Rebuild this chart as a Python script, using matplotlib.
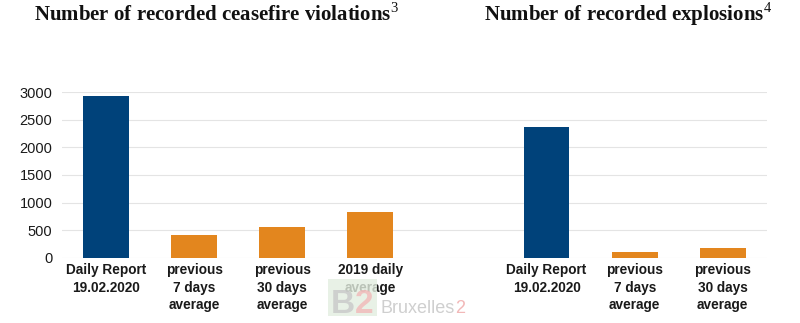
import numpy as np
import matplotlib.pyplot as plt
from matplotlib.patches import Rectangle

# data
categories = ["Daily Report\n19.02.2020", "previous\n7 days\naverage",
              "previous\n30 days\naverage", "2019 daily\naverage", "",
              "Daily Report\n19.02.2020", "previous\n7 days\naverage",
              "previous\n30 days\naverage"]
violations = [2935, 415, 550, 825]
explosions = [2360, 110, 185]
yticks = [0, 500, 1000, 1500, 2000, 2500, 3000]

navy = "#00427a"
orange = "#e3861e"

plt.rcParams['font.family'] = ['Liberation Sans', 'DejaVu Sans']
plt.rcParams['mathtext.fontset'] = 'custom'
plt.rcParams['mathtext.rm'] = 'Liberation Serif'

fig = plt.figure(figsize=(8, 3.23), dpi=100)
ax = fig.add_axes([0.0775, 0.202, 0.881, 0.513])

x = np.arange(len(categories))
values = violations + [0] + explosions
cols = [navy] + [orange] * 3 + ["none"] + [navy] + [orange] * 2
bars = ax.bar(x, values, width=0.52, color=cols, zorder=3)
bars[4].set_visible(False)

ax.set_xlim(-0.5, len(categories) - 0.5)
ax.set_ylim(0, 3000)
ax.set_yticks(yticks)
ax.set_xticks(x)
ax.set_xticklabels(categories, fontsize=9.8, fontweight='bold', color='#1a1a1a',
                   linespacing=1.3)
ax.tick_params(axis='y', labelsize=10.5, colors='#1a1a1a', length=0, pad=7)
ax.tick_params(axis='x', length=0, pad=4)
for s in ax.spines.values():
    s.set_visible(False)
ax.grid(axis='y', color='#e4e4e4', linewidth=0.8, zorder=0)
ax.set_axisbelow(True)

# titles
fig.text(0.27, 0.935, r"Number of recorded ceasefire violations$^{\mathrm{3}}$",
         family='Liberation Serif', fontweight='bold', fontsize=15,
         ha='center', va='baseline', color='#111111')
fig.text(0.785, 0.935, r"Number of recorded explosions$^{\mathrm{4}}$",
         family='Liberation Serif', fontweight='bold', fontsize=15,
         ha='center', va='baseline', color='#111111')

# watermark (faint logo)
fig.patches.append(Rectangle((328 / 800, 1 - 316 / 323), 49 / 800, 37 / 323,
                             transform=fig.transFigure, facecolor='#e3eee0',
                             edgecolor='none', alpha=0.8, zorder=0))
fig.text(331 / 800, 1 - 313 / 323, "B", fontsize=24, fontweight='bold',
         color='#c8c8c8', alpha=0.8, zorder=1)
fig.text(355 / 800, 1 - 313 / 323, "2", fontsize=24, fontweight='bold',
         color='#f2b8b8', alpha=0.8, zorder=1)
brux = fig.text(380 / 800, 1 - 313 / 323, "Bruxelles", fontsize=13,
                color='#cfcfcf', zorder=1)
fig.canvas.draw()
bb = brux.get_window_extent()
fig.text(bb.x1 / fig.bbox.width + 0.001, 1 - 313 / 323, "2", fontsize=13,
         color='#f2b8b8', zorder=1)

fig.savefig("out.png", dpi=100)
